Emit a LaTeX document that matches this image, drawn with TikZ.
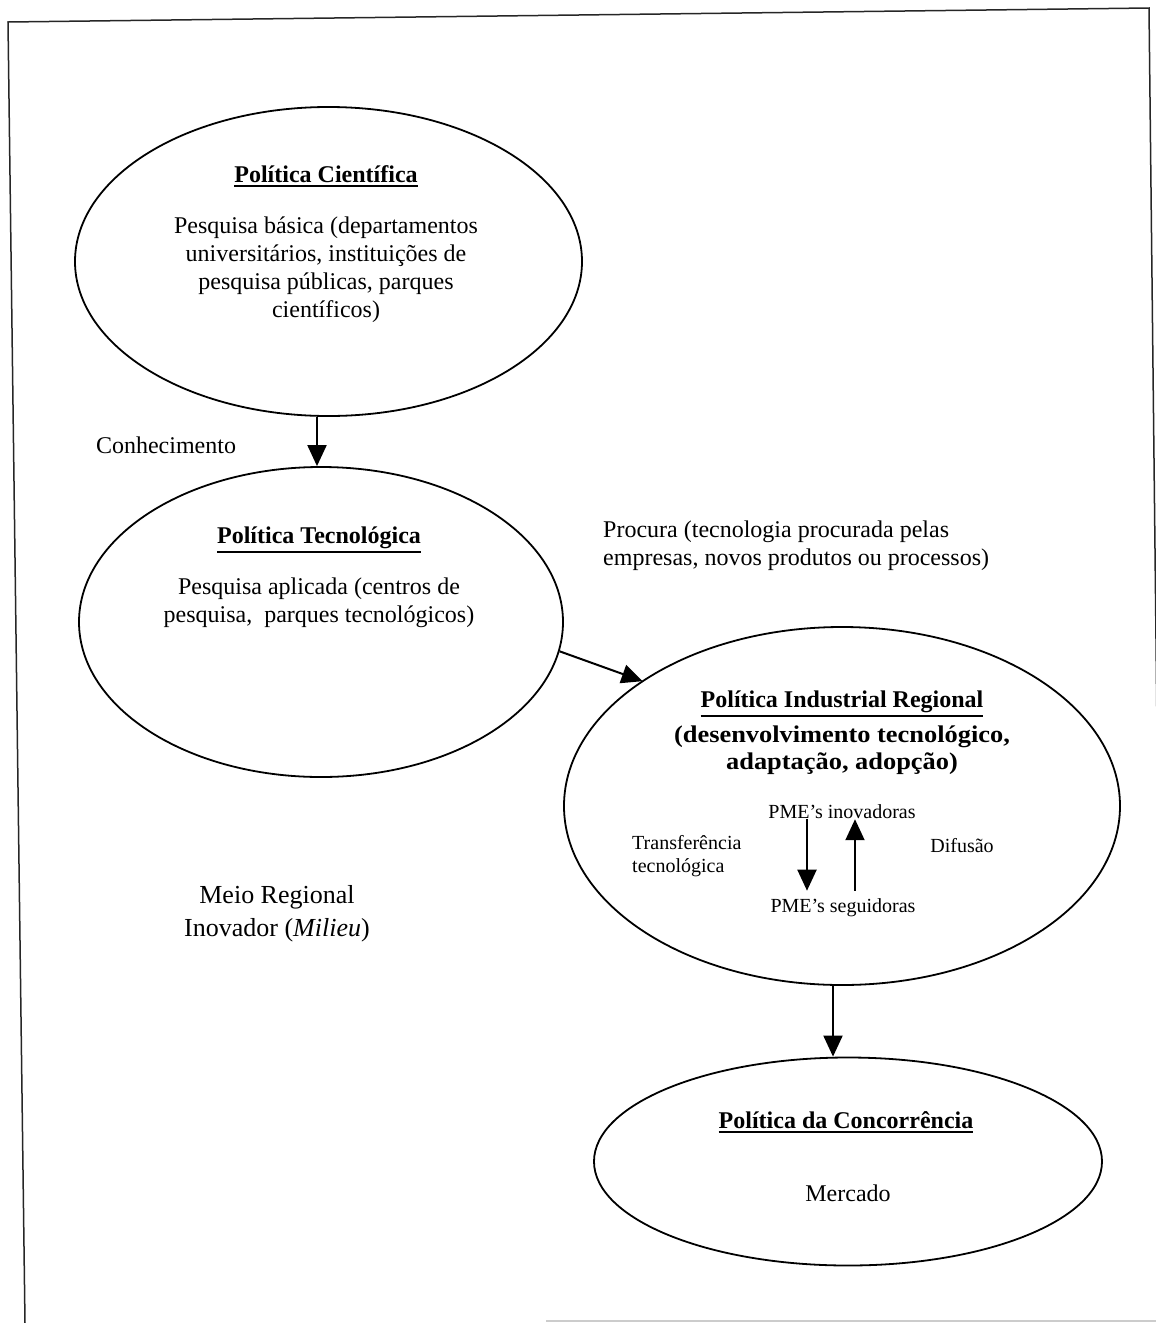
\documentclass[tikz,border=0pt]{standalone}
\usepackage{fontspec}
\setmainfont{Liberation Serif}
\newfontfamily\wideserif[FakeStretch=1.1]{Liberation Serif}
\usetikzlibrary{shapes.geometric,arrows.meta,calc}
\newcommand{\ultitle}[1]{\vtop{\hbox{#1}\kern3pt\hrule height 2pt}}
\begin{document}
\begin{tikzpicture}[x=1pt,y=-1pt,
  ell/.style={ellipse, draw, line width=1.8pt, inner sep=0pt},
  arr/.style={line width=2pt, -{Triangle[length=21pt,width=19pt]}},
  txt/.style={font=\fontsize{24}{28}\selectfont, align=center, inner sep=0pt},
  ttl/.style={font=\fontsize{24}{28}\selectfont\bfseries, inner sep=0pt, anchor=base},
  small/.style={font=\fontsize{20}{23}\selectfont, inner sep=0pt},
  framel/.style={line width=1.5pt, black!85}]

\useasboundingbox (0,0) rectangle (1156,1323);
\clip (0,0) rectangle (1156,1323);

% page frame (scanned)
\coordinate (f1) at (8,22);
\coordinate (f2) at (1149,8);
\coordinate (f3) at (25,1323);
\coordinate (f4) at (1157,730);
\draw[framel] (f3) -- (f1) -- (f2) -- (f4);
\coordinate (g1) at (546,1321);
\coordinate (g2) at (1156,1321);
\draw[line width=1.2pt, black!20] (g1) -- (g2);

% ellipses
\node[ell, minimum width=507pt, minimum height=309pt] (e1) at (328.5,261.5) {};
\node[ell, minimum width=484pt, minimum height=310pt] (e2) at (321,622) {};
\node[ell, minimum width=556pt, minimum height=358pt] (e3) at (842,806) {};
\node[ell, minimum width=508pt, minimum height=208pt] (e4) at (848,1161.5) {};

% Politica Cientifica
\node[ttl] (t1) at (326,182) {\ultitle{Política Científica}};
\node[txt] (b1) at (326,270) {Pesquisa básica (departamentos\\universitários, instituições de\\pesquisa públicas, parques\\científicos)};

% Politica Tecnologica
\node[ttl] (t2) at (319,543) {\ultitle{Política Tecnológica}};
\node[txt] (b2) at (319,603) {Pesquisa aplicada (centros de\\pesquisa,\ \ parques tecnológicos)};

% Politica Industrial Regional
\node[ttl] (t3) at (842,707) {\ultitle{Política Industrial Regional}};
\node[txt, font=\fontsize{24}{27}\selectfont\wideserif\bfseries] (b3) at (842,750) {(desenvolvimento tecnológico,\\adaptação, adopção)};
\node[small] (ino) at (842,812) {PME’s inovadoras};
\node[small, inner ysep=8pt] (seg) at (843,908) {PME’s seguidoras};
\node[small, align=left, anchor=west] (tt) at (632,856) {Transferência\\tecnológica};
\node[small] (dif) at (962,846) {Difusão};

% Politica da Concorrencia
\node[ttl] (t4) at (846,1128) {\ultitle{Política da Concorrência}};
\node[txt] (b4) at (848,1193) {Mercado};

% free labels
\node[txt] (con) at (166,445) {Conhecimento};
\node[txt, align=left, anchor=west] (proc) at (603,546) {Procura (tecnologia procurada pelas\\empresas, novos produtos ou processos)};
\node[txt, font=\fontsize{26}{33}\selectfont] (meio) at (277,914) {Meio Regional\\Inovador (\textit{Milieu})};

% connectors
\coordinate (k1) at (317,0);
\draw[arr] (e1.south -| k1) -- (e2.north -| k1);
\draw[arr, shorten >=-1pt] (e2.-7) -- (e3.148);
\coordinate (k3) at (833,0);
\draw[arr] (e3.south -| k3) -- (e4.north -| k3);
\coordinate (dA) at (807,0);
\coordinate (uA) at (855,0);
\draw[arr] (ino.south -| dA) -- (seg.north -| dA);
\draw[arr] (seg.north -| uA) -- (ino.south -| uA);
\end{tikzpicture}
\end{document}
